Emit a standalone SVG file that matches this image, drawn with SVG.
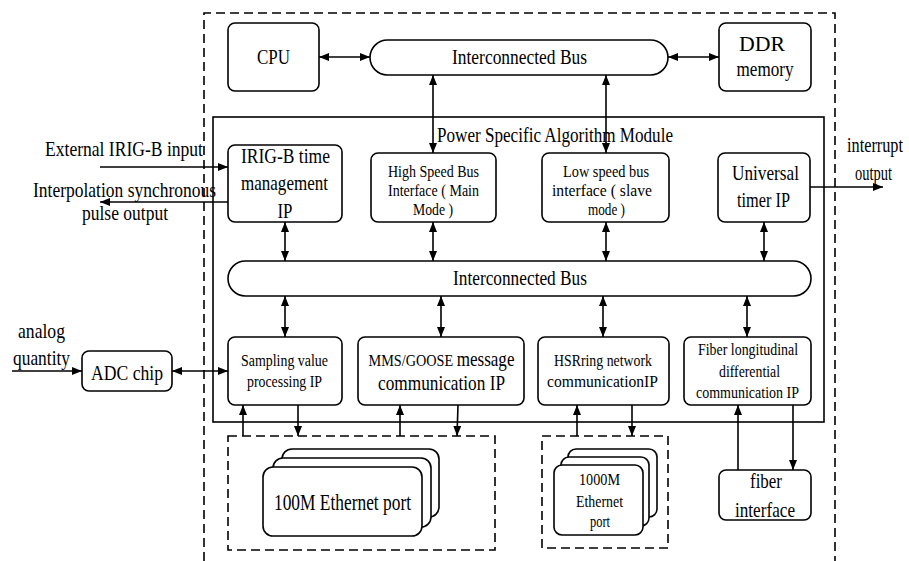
<svg xmlns="http://www.w3.org/2000/svg" width="909" height="561" viewBox="0 0 909 561" font-family="'Liberation Serif', 'Times New Roman', serif">
<style>
.box{fill:#fff;stroke:#000;stroke-width:1.6}
.dash{fill:none;stroke:#000;stroke-width:1.6;stroke-dasharray:9 5}
.ln{fill:none;stroke:#000;stroke-width:1.6}
.a{marker-end:url(#ah)}
.d{marker-start:url(#ah);marker-end:url(#ah)}
text{font-family:'Liberation Serif','Times New Roman',serif;fill:#000;text-anchor:middle}
.L{font-size:22px}
.S{font-size:17.5px}
.X{font-size:24px}
</style>
<defs>
<marker id="ah" viewBox="0 0 10 8" markerWidth="10" markerHeight="8" refX="10" refY="4" orient="auto-start-reverse" markerUnits="userSpaceOnUse">
<path d="M0,0 L10,4 L0,8 z" fill="#000"/>
</marker>
</defs>
<rect width="909" height="561" fill="#fff"/>

<path class="dash" d="M204,575 V13 H835 V575"/>
<rect class="ln" x="213" y="117" width="611" height="305"/>
<text class="L" x="555" y="142" textLength="236" lengthAdjust="spacingAndGlyphs">Power Specific Algorithm Module</text>

<g id="cpu">
<rect class="box" x="228" y="23" width="91" height="68" rx="7"/>
<text class="L" x="273.5" y="64" textLength="33" lengthAdjust="spacingAndGlyphs">CPU</text>
</g>
<g id="bus-top">
<rect class="box" x="370" y="40" width="298" height="35" rx="17.5"/>
<text class="L" x="519.5" y="64" textLength="135" lengthAdjust="spacingAndGlyphs">Interconnected Bus</text>
</g>
<g id="ddr">
<rect class="box" x="719" y="23" width="92" height="68" rx="7"/>
<text class="L" x="762" y="51" textLength="46" lengthAdjust="spacingAndGlyphs">DDR</text>
<text class="L" x="765" y="76" textLength="57" lengthAdjust="spacingAndGlyphs">memory</text>
</g>

<g id="irig">
<rect class="box" x="228" y="145" width="114" height="77" rx="7"/>
<text class="L" x="285.5" y="163" textLength="89" lengthAdjust="spacingAndGlyphs">IRIG-B time</text>
<text class="L" x="284.5" y="190" textLength="87" lengthAdjust="spacingAndGlyphs">management</text>
<text class="L" x="285" y="218" textLength="15" lengthAdjust="spacingAndGlyphs">IP</text>
</g>
<g id="highspeed">
<rect class="box" x="371" y="153" width="125" height="69" rx="7"/>
<text class="S" x="433.5" y="177" textLength="91" lengthAdjust="spacingAndGlyphs">High Speed Bus</text>
<text class="S" x="433.5" y="196" textLength="91" lengthAdjust="spacingAndGlyphs">Interface ( Main</text>
<text class="S" x="433" y="215" textLength="40" lengthAdjust="spacingAndGlyphs">Mode )</text>
</g>
<g id="lowspeed">
<rect class="box" x="542" y="153" width="127" height="69" rx="7"/>
<text class="S" x="606" y="177" textLength="86" lengthAdjust="spacingAndGlyphs">Low speed bus</text>
<text class="S" x="602" y="196" textLength="100" lengthAdjust="spacingAndGlyphs">interface ( slave</text>
<text class="S" x="606.5" y="215" textLength="37" lengthAdjust="spacingAndGlyphs">mode )</text>
</g>
<g id="timer">
<rect class="box" x="718" y="153" width="92" height="69" rx="7"/>
<text class="L" x="765.5" y="180" textLength="67" lengthAdjust="spacingAndGlyphs">Universal</text>
<text class="L" x="763.5" y="207" textLength="53" lengthAdjust="spacingAndGlyphs">timer IP</text>
</g>

<g id="bus-mid">
<rect class="box" x="228" y="261" width="583" height="35" rx="17.5"/>
<text class="L" x="520" y="285" textLength="134" lengthAdjust="spacingAndGlyphs">Interconnected Bus</text>
</g>

<g id="sampling">
<rect class="box" x="228" y="337" width="114" height="68" rx="7"/>
<text class="S" x="284.5" y="366" textLength="87" lengthAdjust="spacingAndGlyphs">Sampling value</text>
<text class="S" x="284.5" y="387" textLength="75" lengthAdjust="spacingAndGlyphs">processing IP</text>
</g>
<g id="mms">
<rect class="box" x="358" y="337" width="166" height="68" rx="7"/>
<text x="441.5" y="366" textLength="146" lengthAdjust="spacingAndGlyphs"><tspan font-size="17.5">MMS/GOOSE </tspan><tspan font-size="21">message</tspan></text>
<text class="L" x="441.5" y="390" textLength="127" lengthAdjust="spacingAndGlyphs">communication IP</text>
</g>
<g id="hsr">
<rect class="box" x="538" y="337" width="131" height="68" rx="7"/>
<text class="S" x="603" y="366" textLength="98" lengthAdjust="spacingAndGlyphs">HSRring network</text>
<text class="S" x="602.5" y="387" textLength="111" lengthAdjust="spacingAndGlyphs">communicationIP</text>
</g>
<g id="fiberip">
<rect class="box" x="684" y="337" width="127" height="68" rx="7"/>
<text class="S" x="748" y="355" textLength="100" lengthAdjust="spacingAndGlyphs">Fiber longitudinal</text>
<text class="S" x="749.5" y="377" textLength="61" lengthAdjust="spacingAndGlyphs">differential</text>
<text class="S" x="747.5" y="398" textLength="103" lengthAdjust="spacingAndGlyphs">communication IP</text>
</g>

<g id="adc">
<rect class="box" x="82" y="351" width="90" height="40" rx="7"/>
<text class="L" x="127" y="380" textLength="72" lengthAdjust="spacingAndGlyphs">ADC chip</text>
</g>

<g id="eth100">
<rect class="dash" x="228" y="436" width="267" height="114"/>
<rect class="box" x="282" y="449" width="157" height="68" rx="10"/>
<rect class="box" x="273" y="458" width="158" height="69" rx="10"/>
<rect class="box" x="263" y="467" width="159" height="69" rx="10"/>
<text class="X" x="342.5" y="510" textLength="137" lengthAdjust="spacingAndGlyphs">100M Ethernet port</text>
</g>
<g id="eth1000">
<rect class="dash" x="542" y="436" width="126" height="112"/>
<rect class="box" x="568" y="449" width="89" height="68" rx="8"/>
<rect class="box" x="561" y="457" width="88" height="69" rx="8"/>
<rect class="box" x="554" y="465" width="89" height="70" rx="8"/>
<text class="S" x="599.5" y="485" textLength="41" lengthAdjust="spacingAndGlyphs">1000M</text>
<text class="S" x="599.5" y="507" textLength="47" lengthAdjust="spacingAndGlyphs">Ethernet</text>
<text class="S" x="600" y="527" textLength="20" lengthAdjust="spacingAndGlyphs">port</text>
</g>
<g id="fiberif">
<rect class="box" x="719" y="470" width="92" height="50" rx="7"/>
<text class="L" x="766" y="488" textLength="32" lengthAdjust="spacingAndGlyphs">fiber</text>
<text class="L" x="765" y="517" textLength="60" lengthAdjust="spacingAndGlyphs">interface</text>
</g>

<g id="labels">
<text class="L" x="124" y="156" textLength="158" lengthAdjust="spacingAndGlyphs">External IRIG-B input</text>
<text class="L" x="124.5" y="197" textLength="183" lengthAdjust="spacingAndGlyphs">Interpolation synchronous</text>
<text class="L" x="125" y="220" textLength="86" lengthAdjust="spacingAndGlyphs">pulse output</text>
<text class="L" x="875" y="152" textLength="56" lengthAdjust="spacingAndGlyphs">interrupt</text>
<text class="L" x="873.5" y="180" textLength="37" lengthAdjust="spacingAndGlyphs">output</text>
<text class="L" x="41.5" y="338" textLength="47" lengthAdjust="spacingAndGlyphs">analog</text>
<text class="L" x="41.5" y="365" textLength="57" lengthAdjust="spacingAndGlyphs">quantity</text>
</g>

<g id="connectors">
<line class="ln d" x1="319" y1="57" x2="370" y2="57"/>
<line class="ln d" x1="668" y1="57" x2="719" y2="57"/>
<line class="ln d" x1="433" y1="75" x2="433" y2="153"/>
<line class="ln d" x1="606" y1="75" x2="606" y2="153"/>
<line class="ln d" x1="285" y1="222" x2="285" y2="261"/>
<line class="ln d" x1="433" y1="222" x2="433" y2="261"/>
<line class="ln d" x1="606" y1="222" x2="606" y2="261"/>
<line class="ln d" x1="764" y1="222" x2="764" y2="261"/>
<line class="ln d" x1="285" y1="296" x2="285" y2="337"/>
<line class="ln d" x1="441" y1="296" x2="441" y2="337"/>
<line class="ln d" x1="603" y1="296" x2="603" y2="337"/>
<line class="ln d" x1="747" y1="296" x2="747" y2="337"/>
<line class="ln d" x1="172" y1="371" x2="228" y2="371"/>
<line class="ln a" x1="12" y1="371" x2="82" y2="371"/>
<line class="ln a" x1="100" y1="167" x2="228" y2="167"/>
<line class="ln a" x1="228" y1="202" x2="100" y2="202"/>
<line class="ln a" x1="810" y1="187" x2="883" y2="187"/>
<line class="ln a" x1="243" y1="436" x2="243" y2="405"/>
<line class="ln a" x1="298" y1="405" x2="298" y2="436"/>
<line class="ln a" x1="400" y1="436" x2="400" y2="405"/>
<line class="ln a" x1="458" y1="405" x2="457" y2="436"/>
<line class="ln a" x1="577" y1="436" x2="577" y2="405"/>
<line class="ln a" x1="632" y1="405" x2="632" y2="436"/>
<line class="ln a" x1="738" y1="470" x2="738" y2="405"/>
<line class="ln a" x1="793" y1="405" x2="793" y2="470"/>
</g>
</svg>
